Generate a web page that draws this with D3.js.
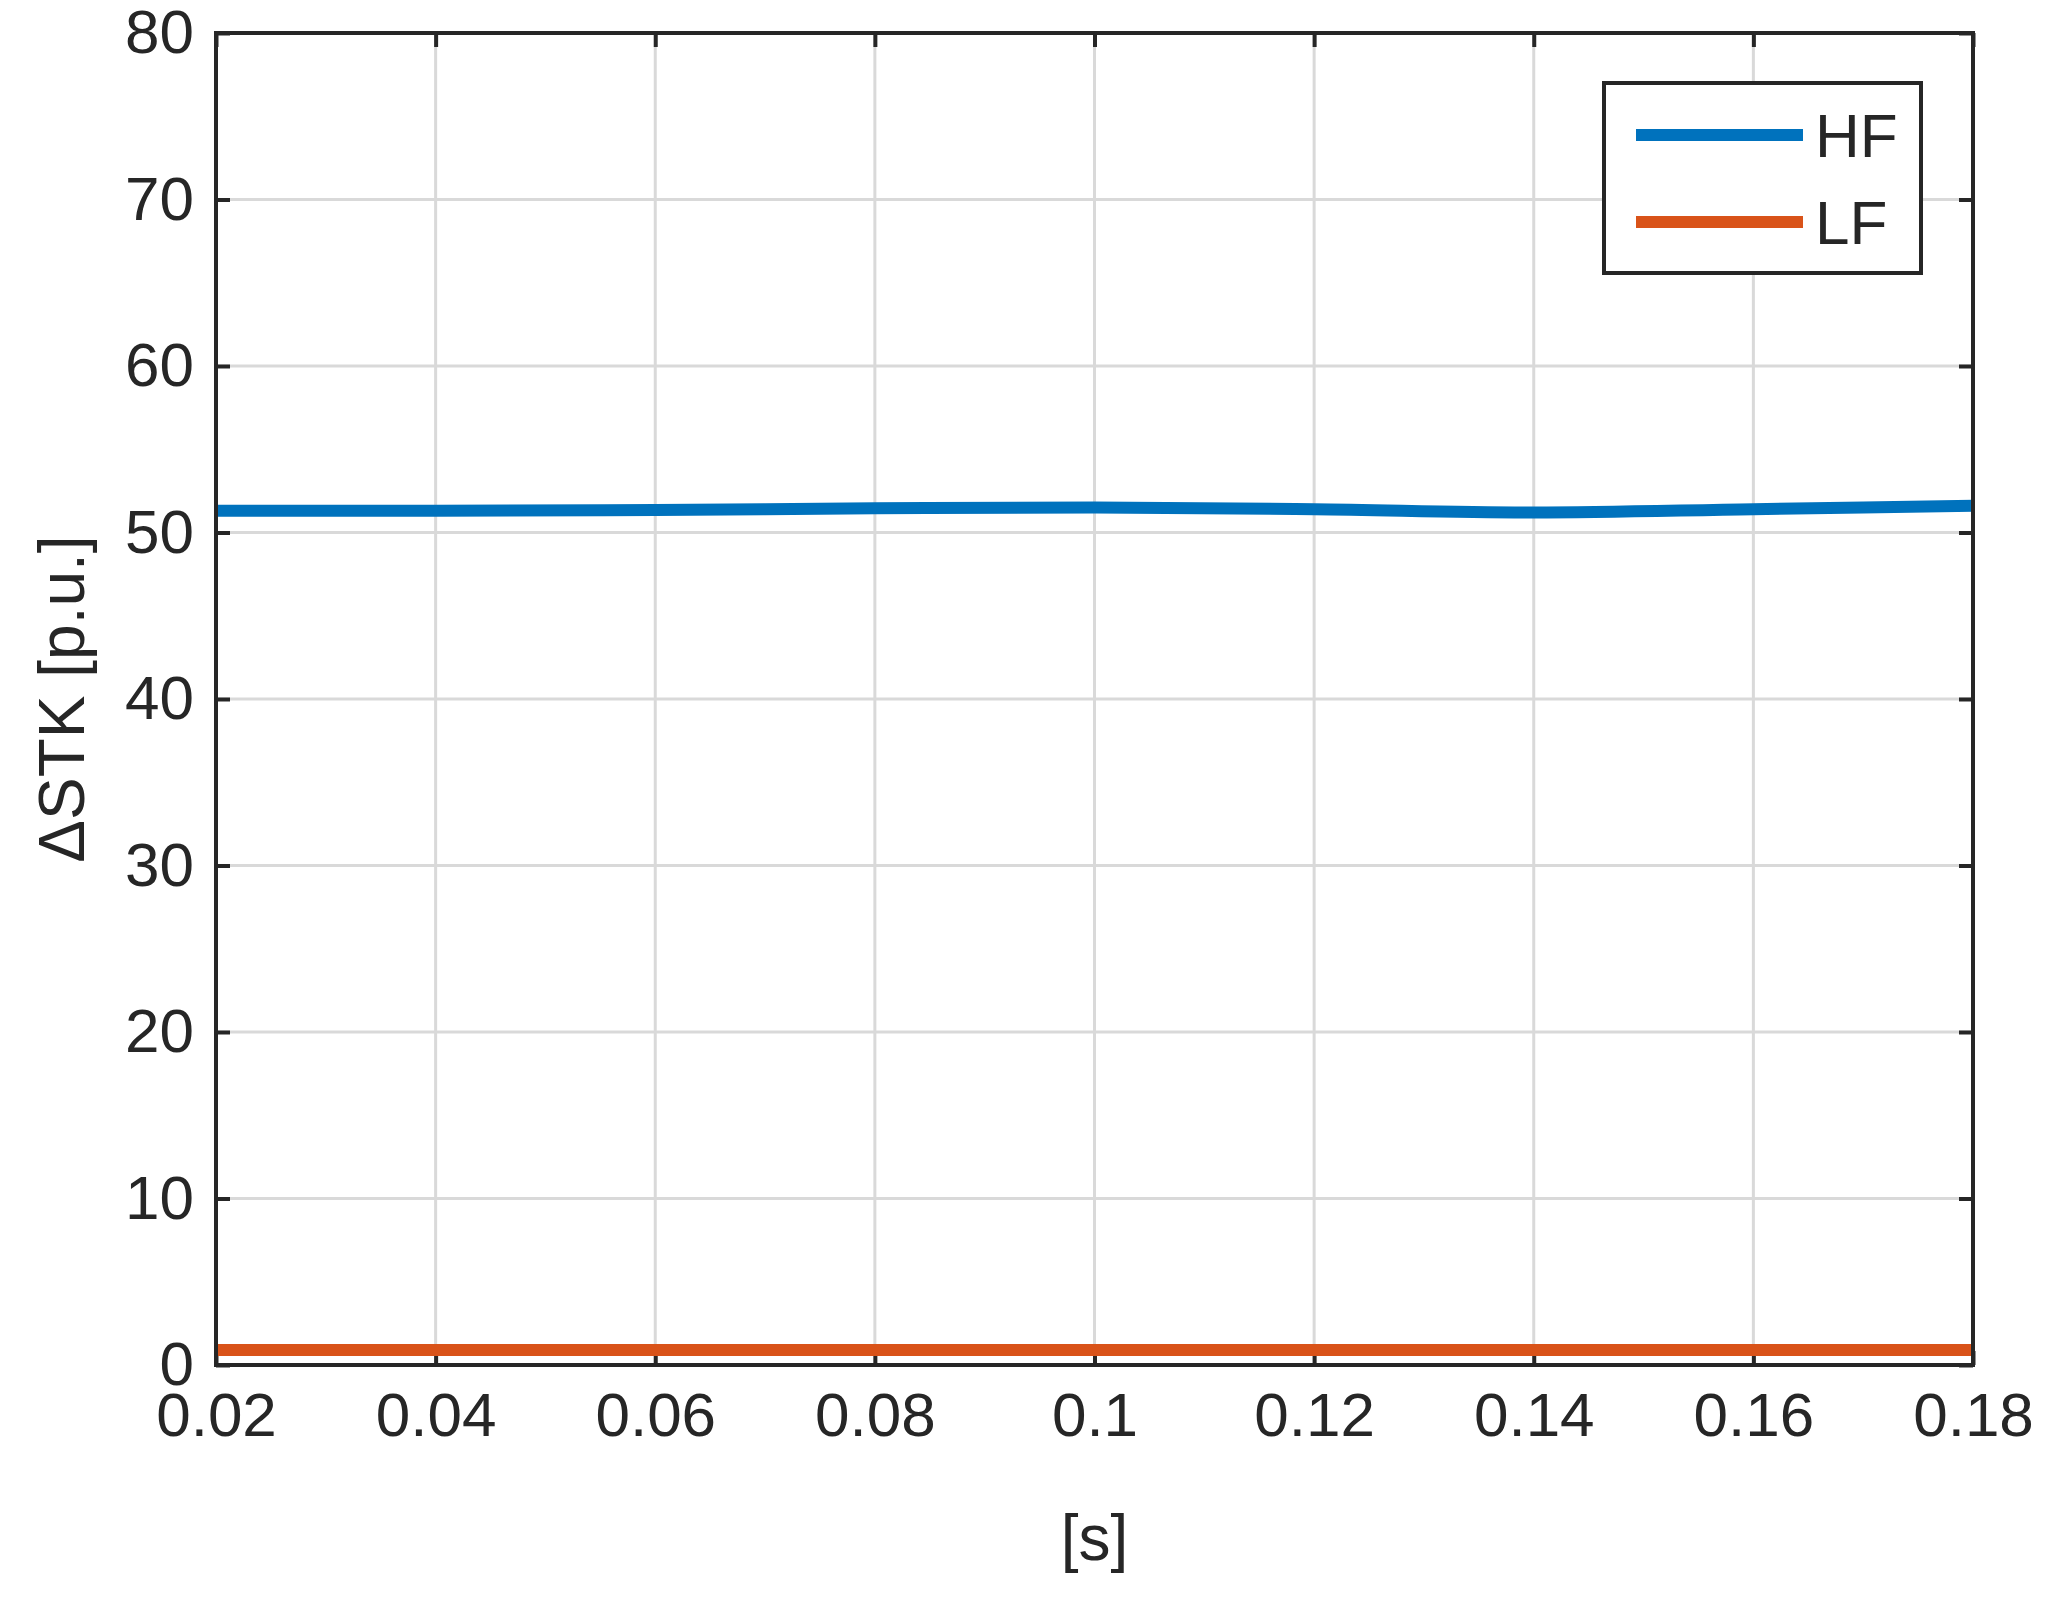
<!DOCTYPE html>
<html><head><meta charset="utf-8">
<script src="https://cdn.jsdelivr.net/npm/d3@7"></script>
<style>body{margin:0;background:#fff}text{font-family:Arial,"Liberation Sans",sans-serif;fill:#262626}</style>
</head><body><div id="chart"></div>
<script>
const timeS = [0.02, 0.04, 0.06, 0.08, 0.10, 0.12, 0.14, 0.16, 0.18];
const hfValues = [51.3, 51.3, 51.35, 51.45, 51.5, 51.4, 51.2, 51.4, 51.6];
const lfValues = [0.9, 0.9, 0.9, 0.9, 0.9, 0.9, 0.9, 0.9, 0.9];
const xTicks = [0.02, 0.04, 0.06, 0.08, 0.1, 0.12, 0.14, 0.16, 0.18];
const yTicks = [0, 10, 20, 30, 40, 50, 60, 70, 80];

let W = 2056, H = 1598;
let m = {left: 216, right: 1973, top: 33, bottom: 1365};
let svg = d3.select("#chart").append("svg").attr("width", W).attr("height", H);

let x = d3.scaleLinear().domain([0.02, 0.18]).range([m.left, m.right]);
let y = d3.scaleLinear().domain([0, 80]).range([m.bottom, m.top]);

// grid
svg.append("g").selectAll("line").data(xTicks).enter().append("line")
    .attr("x1", d => x(d)).attr("x2", d => x(d)).attr("y1", m.top).attr("y2", m.bottom)
    .attr("stroke", "#d9d9d9").attr("stroke-width", 3);
svg.append("g").selectAll("line").data(yTicks).enter().append("line")
    .attr("y1", d => y(d)).attr("y2", d => y(d)).attr("x1", m.left).attr("x2", m.right)
    .attr("stroke", "#d9d9d9").attr("stroke-width", 3);

// axes
let xAxis = d3.axisBottom(x).tickValues(xTicks).tickSize(-14).tickPadding(18).tickFormat(d => String(+d.toFixed(2)));
let yAxis = d3.axisLeft(y).tickValues(yTicks).tickSize(-14).tickPadding(22);
let gx = svg.append("g").attr("transform", `translate(0,${m.bottom})`).call(xAxis);
let gy = svg.append("g").attr("transform", `translate(${m.left},0)`).call(yAxis);
svg.append("g").attr("transform", `translate(0,${m.top})`).call(d3.axisTop(x).tickValues(xTicks).tickSize(-14).tickFormat(""));
svg.append("g").attr("transform", `translate(${m.right},0)`).call(d3.axisRight(y).tickValues(yTicks).tickSize(-14).tickFormat(""));
svg.selectAll(".domain").remove();
svg.selectAll(".tick line").attr("stroke", "#262626").attr("stroke-width", 4);
svg.selectAll(".tick text").style("font-size", "62px").attr("fill", "#262626");
gx.selectAll(".tick text").attr("dy", "0.85em");

// lines
let line = d3.line().x((d, i) => x(timeS[i])).y(d => y(d)).curve(d3.curveMonotoneX);
svg.append("path").datum(hfValues).attr("d", line).attr("fill", "none").attr("stroke", "#0072bd").attr("stroke-width", 12);
svg.append("path").datum(lfValues).attr("d", line).attr("fill", "none").attr("stroke", "#d95319").attr("stroke-width", 12);

// box
svg.append("rect").attr("x", m.left).attr("y", m.top).attr("width", m.right - m.left).attr("height", m.bottom - m.top)
    .attr("fill", "none").attr("stroke", "#262626").attr("stroke-width", 4);

// labels
svg.append("text").attr("x", (m.left + m.right) / 2).attr("y", 1560).attr("text-anchor", "middle")
    .style("font-size", "64px").text("[s]");
svg.append("text").attr("transform", `translate(84,${(m.top + m.bottom) / 2}) rotate(-90)`).attr("text-anchor", "middle")
    .style("font-size", "64px").text("\u0394STK [p.u.]");

// legend
let lg = svg.append("g");
lg.append("rect").attr("x", 1604).attr("y", 83).attr("width", 317).attr("height", 190)
    .attr("fill", "#fff").attr("stroke", "#262626").attr("stroke-width", 4);
[["HF", "#0072bd"], ["LF", "#d95319"]].forEach((s, i) => {
    let cy = 135 + i * 87;
    lg.append("line").attr("x1", 1636).attr("x2", 1803).attr("y1", cy).attr("y2", cy).attr("stroke", s[1]).attr("stroke-width", 12);
    lg.append("text").attr("x", 1815).attr("y", cy + 22).style("font-size", "62px").text(s[0]);
});
</script></body></html>
